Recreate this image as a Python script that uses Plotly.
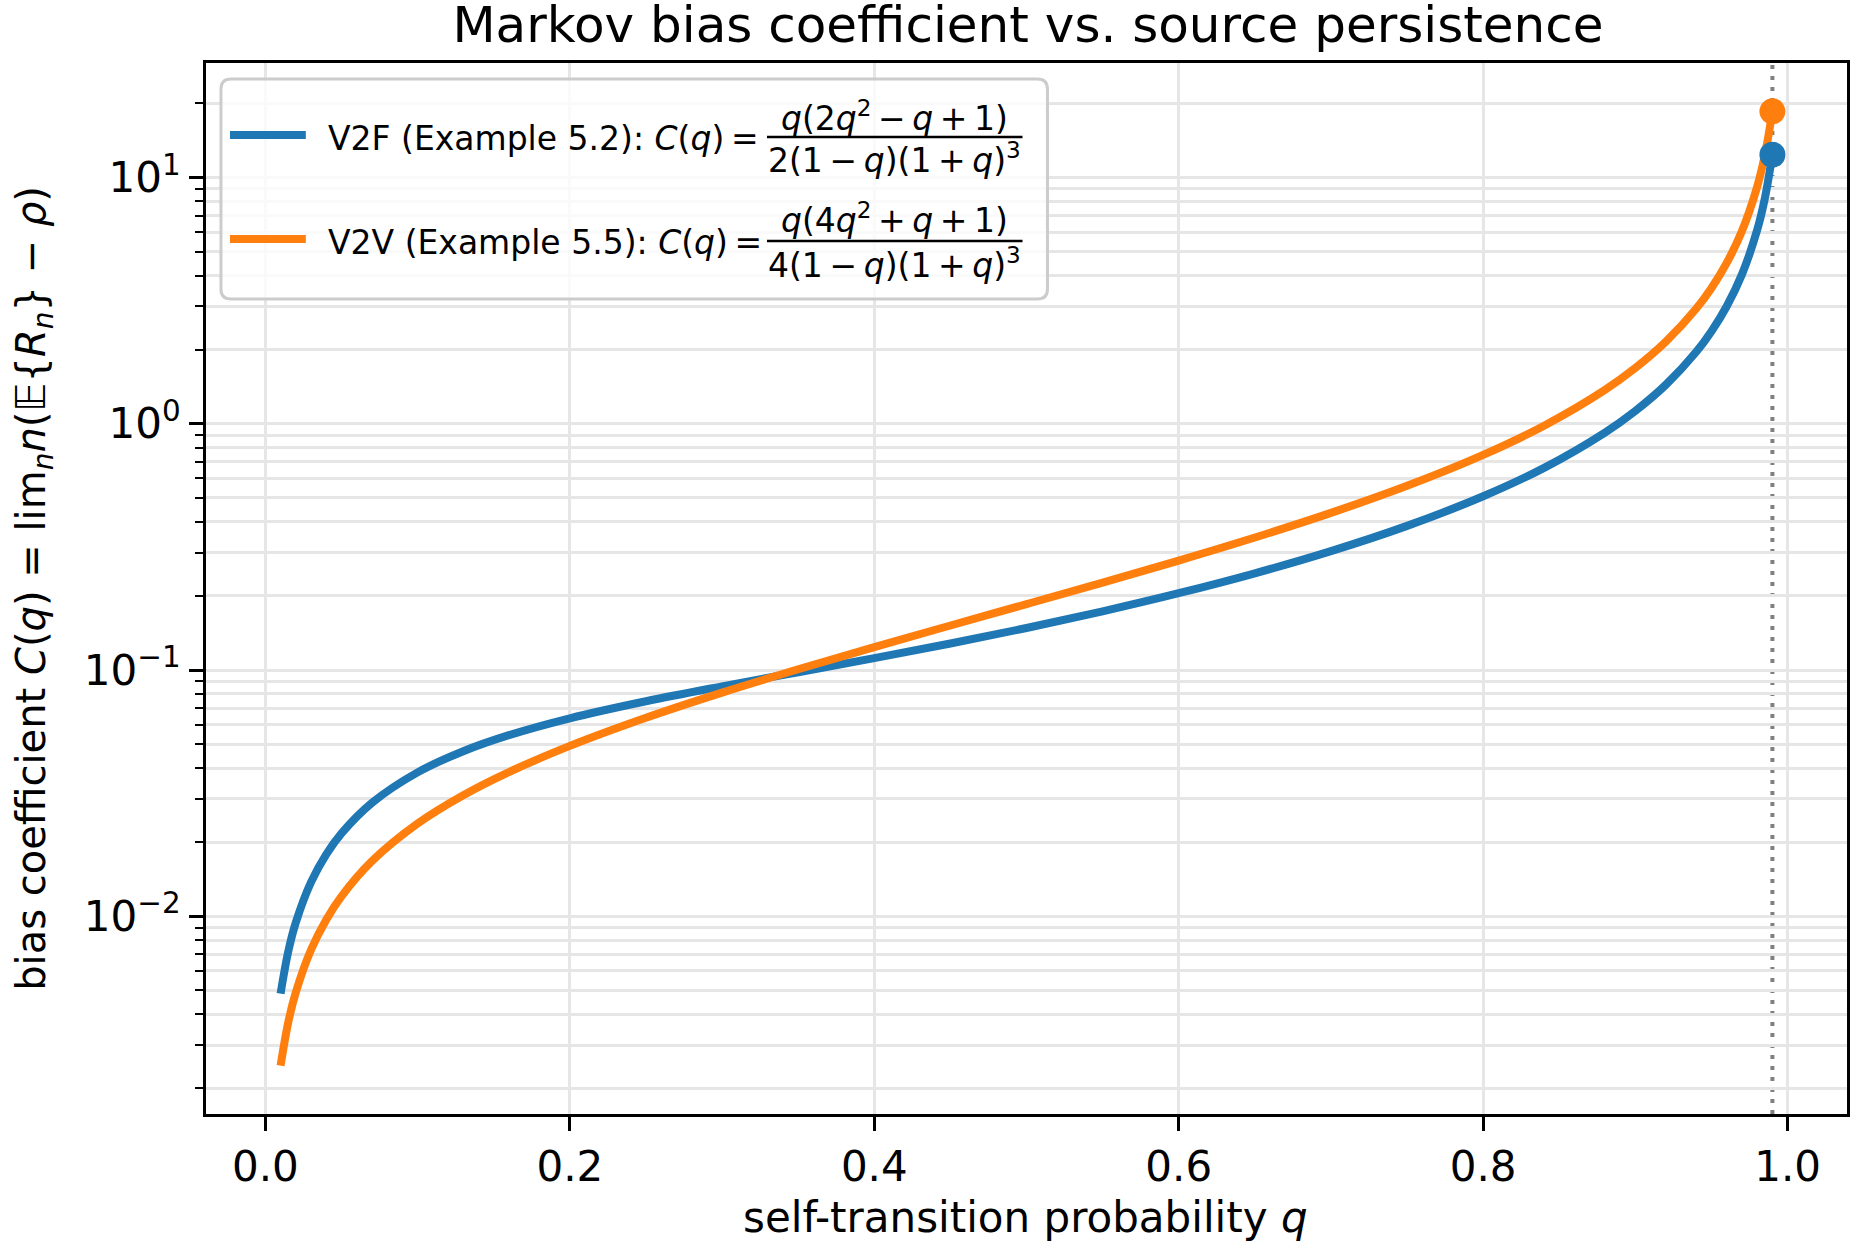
import plotly.graph_objects as go

# ---------------- data ----------------
q_vals = [0.01, 0.015, 0.02, 0.03, 0.04, 0.05, 0.07, 0.10, 0.13, 0.16, 0.20, 0.25,
          0.30, 0.35, 0.40, 0.45, 0.50, 0.55, 0.60, 0.65, 0.70, 0.75, 0.80, 0.84,
          0.88, 0.90, 0.92, 0.94, 0.95, 0.96, 0.97, 0.98, 0.985, 0.99]
c_v2f = [0.004854, 0.007176, 0.009431, 0.013753, 0.017839, 0.02171, 0.028871, 0.0384,
         0.046798, 0.054376, 0.063657, 0.074667, 0.085831, 0.097938, 0.111759, 0.128151,
         0.148148, 0.173132, 0.205078, 0.247019, 0.303956, 0.38484, 0.507545, 0.662075,
         0.920878, 1.128444, 1.440204, 1.960319, 2.37664, 3.0013, 4.042633, 6.125614,
         8.2088, 12.3753]
c_v2v = [0.002476, 0.003699, 0.004912, 0.007314, 0.00969, 0.012048, 0.016737, 0.023792,
         0.031006, 0.038513, 0.04919, 0.064, 0.080955, 0.100673, 0.123907, 0.151633,
         0.185185, 0.226467, 0.27832, 0.345207, 0.434561, 0.559767, 0.747599, 0.982325,
         1.37337, 1.686106, 2.155108, 2.936621, 3.561759, 4.499399, 6.062052, 9.187186,
         12.3124, 18.5626]
q_marker = 0.99

TS = "\u2009"  # thin space (math operator spacing)
series_names = ["V2F (Example 5.2)", "V2V (Example 5.5)"]
legend_num = [f"<i>q</i>(2<i>q</i><sup>2</sup>{TS}−{TS}<i>q</i>{TS}+{TS}1)",
              f"<i>q</i>(4<i>q</i><sup>2</sup>{TS}+{TS}<i>q</i>{TS}+{TS}1)"]
legend_den = [f"2(1{TS}−{TS}<i>q</i>)(1{TS}+{TS}<i>q</i>)<sup>3</sup>",
              f"4(1{TS}−{TS}<i>q</i>)(1{TS}+{TS}<i>q</i>)<sup>3</sup>"]

x_tickvals = [0.0, 0.2, 0.4, 0.6, 0.8, 1.0]
x_ticktext = ["0.0", "0.2", "0.4", "0.6", "0.8", "1.0"]
y_tickvals = [0.01, 0.1, 1, 10]
y_ticktext = ["10<sup>−2</sup>", "10<sup>−1</sup>", "10<sup>0</sup>", "10<sup>1</sup>"]
y_minorvals = [m * 10.0 ** e for e in (-3, -2, -1, 0, 1) for m in range(2, 10)]

BLUE = "#1f77b4"
ORANGE = "#ff7f0e"
FONT = "DejaVu Sans"
GRID = "#e6e6e6"

# ---------------- geometry helpers ----------------
FW, FH = 1852, 1241
L, R, T, B = 206, 1850, 63, 1114
PW, PH = R - L, B - T


def px(x):
    return (x - L) / PW


def py(y):
    return (B - y) / PH


fig = go.Figure()

fig.add_trace(go.Scatter(x=q_vals, y=c_v2f, mode="lines", line=dict(color=BLUE, width=8, shape="spline"),
                         name=series_names[0], showlegend=False))
fig.add_trace(go.Scatter(x=q_vals, y=c_v2v, mode="lines", line=dict(color=ORANGE, width=8, shape="spline"),
                         name=series_names[1], showlegend=False))
fig.add_trace(go.Scatter(x=[q_marker], y=[c_v2f[-1]], mode="markers", marker=dict(color=BLUE, size=26),
                         showlegend=False))
fig.add_trace(go.Scatter(x=[q_marker], y=[c_v2v[-1]], mode="markers", marker=dict(color=ORANGE, size=26),
                         showlegend=False))

# dotted vertical line at q = 0.99
fig.add_shape(type="line", xref="x", yref="paper", x0=q_marker, x1=q_marker, y0=0, y1=1,
              line=dict(color="#808080", width=4, dash="4px,7px"), layer="between")

# ---------------- custom legend ----------------
xl, xr, yt, yb, r = 221, 1049, 79, 299, 10
X0, X1, Yt, Yb = px(xl), px(xr), py(yt), py(yb)
rx, ry = r / PW, r / PH
path = (f"M {X0+rx},{Yb} L {X1-rx},{Yb} Q {X1},{Yb} {X1},{Yb+ry} L {X1},{Yt-ry} "
        f"Q {X1},{Yt} {X1-rx},{Yt} L {X0+rx},{Yt} Q {X0},{Yt} {X0},{Yt-ry} "
        f"L {X0},{Yb+ry} Q {X0},{Yb} {X0+rx},{Yb} Z")
fig.add_shape(type="path", xref="paper", yref="paper", path=path,
              fillcolor="rgba(255,255,255,0.8)", line=dict(color="#cccccc", width=3), layer="above")

LFS = 33
rows = [(BLUE, 137, 116, 159), (ORANGE, 241, 219, 263)]
for i, (col, ymid, ynum, yden) in enumerate(rows):
    fig.add_shape(type="line", xref="paper", yref="paper", x0=px(230), x1=px(306), y0=py(ymid - 2), y1=py(ymid - 2),
                  line=dict(color=col, width=8), layer="above")
    fig.add_annotation(xref="paper", yref="paper", x=px(326), y=py(ymid + 1), xanchor="left", yanchor="middle",
                       text=series_names[i] + f": <i>C</i>(<i>q</i>){TS}={TS}", showarrow=False,
                       font=dict(family=FONT, size=LFS, color="black"))
    fig.add_annotation(xref="paper", yref="paper", x=px(896), y=py(ynum), xanchor="center", yanchor="middle",
                       text=legend_num[i], showarrow=False, font=dict(family=FONT, size=LFS, color="black"))
    fig.add_annotation(xref="paper", yref="paper", x=px(896), y=py(yden), xanchor="center", yanchor="middle",
                       text=legend_den[i], showarrow=False, font=dict(family=FONT, size=LFS, color="black"))
    fig.add_shape(type="line", xref="paper", yref="paper", x0=px(768), x1=px(1024), y0=py(ymid), y1=py(ymid),
                  line=dict(color="black", width=2.5), layer="above")

# axis titles as annotations
fig.add_annotation(xref="paper", yref="paper", x=px(1027), y=py(1217), xanchor="center", yanchor="middle",
                   text="self-transition probability <i>q</i>", showarrow=False,
                   font=dict(family=FONT, size=42, color="black"))
fig.add_annotation(xref="paper", yref="paper", x=px(33), y=0.5, xanchor="center", yanchor="middle",
                   textangle=-90,
                   text="bias coefficient <i>C</i>(<i>q</i>) = lim<sub><i>n</i></sub><i>n</i>(𝔼{<i>R</i><sub><i>n</i></sub>} − <i>ρ</i>)",
                   showarrow=False, font=dict(family=FONT, size=40, color="black"))

fig.update_layout(
    width=FW, height=FH,
    margin=dict(l=L, r=FW - R, t=T, b=FH - B, pad=0),
    paper_bgcolor="white", plot_bgcolor="white",
    font=dict(family=FONT, size=42, color="black"),
    title=dict(text="Markov bias coefficient vs. source persistence", x=(L + R) / 2 / FW, xanchor="center",
               y=1 - 24 / FH, yanchor="middle", yref="container", font=dict(family=FONT, size=50, color="black")),
    showlegend=False,
)

fig.update_xaxes(range=[-0.039, 1.039], tickvals=x_tickvals, ticktext=x_ticktext,
                 showline=True, mirror=True, linecolor="black", linewidth=3,
                 ticks="outside", ticklen=14, tickwidth=3, tickcolor="black",
                 showgrid=True, gridcolor=GRID, gridwidth=3, zeroline=False,
                 tickfont=dict(family=FONT, size=42, color="black"))
fig.update_yaxes(type="log", range=[-2.803, 1.465], tickvals=y_tickvals, ticktext=y_ticktext,
                 showline=True, mirror=True, linecolor="black", linewidth=3,
                 ticks="outside", ticklen=14, tickwidth=3, tickcolor="black",
                 showgrid=True, gridcolor=GRID, gridwidth=3, zeroline=False,
                 tickfont=dict(family=FONT, size=42, color="black"),
                 minor=dict(tickvals=y_minorvals, ticks="outside", ticklen=8, tickwidth=2.4, tickcolor="black",
                            showgrid=True, gridcolor=GRID, gridwidth=3))

fig.write_html("out.html")
